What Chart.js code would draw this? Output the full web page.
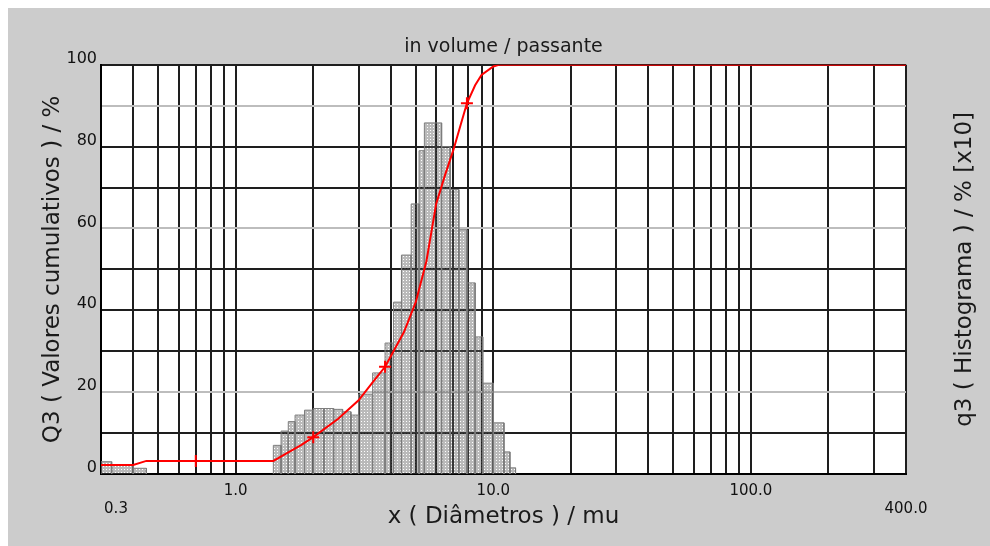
<!DOCTYPE html>
<html>
<head>
<meta charset="utf-8">
<title>Granulometria</title>
<script src="https://cdn.jsdelivr.net/npm/chart.js@4.4.1/dist/chart.umd.min.js"></script>
<style>
  html, body { margin: 0; padding: 0; background: #fff; }
  #box { width: 990px; height: 546px; }
</style>
</head>
<body>
<div id="box"><canvas id="granChart"></canvas></div>
<script>
// histogram classes (diameter, mu) and q3 heights in % x10
var histFrom = [0.3, 0.33, 0.4, 1.4, 1.5, 1.6, 1.7, 1.85, 2.0, 2.2, 2.4, 2.6, 2.8, 3.0, 3.4, 3.8, 4.1, 4.4, 4.8, 5.15, 5.4, 6.3, 6.8, 7.35, 7.9, 8.5, 9.1, 10.0, 11.0, 11.6];
var histTo   = [0.33, 0.4, 0.45, 1.5, 1.6, 1.7, 1.85, 2.0, 2.2, 2.4, 2.6, 2.8, 3.0, 3.4, 3.8, 4.1, 4.4, 4.8, 5.15, 5.4, 6.3, 6.8, 7.35, 7.9, 8.5, 9.1, 10.0, 11.0, 11.6, 12.2];
var histQ3   = [3.0, 2.2, 1.4, 7.0, 10.5, 12.8, 14.4, 15.6, 16.0, 16.0, 15.8, 15.2, 14.4, 19.5, 24.7, 32.0, 42.0, 53.5, 66.0, 79.0, 85.8, 80.0, 69.5, 59.7, 46.7, 33.5, 22.2, 12.5, 5.4, 1.5];

// cumulative passing curve Q3 (%)
var cumDiam = [0.3, 0.4, 0.45, 0.7, 1.4, 1.6, 1.8, 2.0, 2.5, 3.0, 3.4, 3.8, 4.0, 4.5, 5.0, 5.5, 6.0, 6.5, 7.0, 7.5, 7.9, 8.5, 9.0, 10.0, 10.5, 400];
var cumQ3   = [2.2, 2.2, 3.2, 3.2, 3.2, 5.3, 7.1, 9.0, 13.5, 18.0, 22.4, 26.2, 28.8, 34.7, 42.0, 52.0, 66.0, 73.1, 79.2, 85.7, 90.6, 95.0, 97.5, 99.6, 100, 100];
var cumMarks = [0.7, 2.0, 3.8, 7.9];

// axis grid / labels (0.3 and 400 sit on a second line)
var xGrid = [0.3, 0.4, 0.5, 0.6, 0.7, 0.8, 0.9, 1, 2, 3, 4, 5, 6, 7, 8, 9, 10, 20, 30, 40, 50, 60, 70, 80, 90, 100, 200, 300, 400];
var xLabels = { '0.3': ['', '\u2003\u20030.3'], '1': '1.0', '10': '10.0', '100': '100.0', '400': ['', '400.0'] };
var yLabels = [0, 20, 40, 60, 80, 100];
var yLight = [20, 60, 90];

Chart.defaults.font.family = "'DejaVu Sans', sans-serif";
Chart.defaults.color = '#111111';

function dotPattern() {
    var tile = document.createElement('canvas');
    tile.width = 3;
    tile.height = 3;
    var t = tile.getContext('2d');
    t.fillStyle = 'rgba(90, 90, 90, 0.42)';
    t.fillRect(0, 0, 3, 3);
    t.clearRect(1, 1, 1, 1);
    return t.createPattern(tile, 'repeat');
}

var dots = dotPattern();

var datasets = [{
    label: 'Q3',
    data: cumDiam.map(function (d, i) { return { x: d, y: cumQ3[i] }; }),
    borderColor: '#ff0000',
    borderWidth: 2,
    tension: 0,
    fill: false,
    pointStyle: 'cross',
    pointRadius: cumDiam.map(function (d) { return cumMarks.indexOf(d) >= 0 ? 6 : 0; }),
    pointBorderColor: '#ff0000',
    pointBorderWidth: 2,
    order: 0
}];

// one closed step per class so every bar keeps its own outline
histFrom.forEach(function (lo, i) {
    var hi = histTo[i], h = histQ3[i];
    datasets.push({
        label: 'q3',
        data: [{ x: lo, y: 0 }, { x: lo, y: h }, { x: hi, y: h }, { x: hi, y: 0 }],
        borderColor: '#7c7c7c',
        borderWidth: 1,
        backgroundColor: dots,
        fill: 'origin',
        pointRadius: 0,
        tension: 0,
        order: 1
    });
});

// grey panel with a thin white edge, white plot area
var panel = {
    id: 'panel',
    beforeDraw: function (chart) {
        var ctx = chart.ctx, a = chart.chartArea;
        ctx.save();
        ctx.fillStyle = '#ffffff';
        ctx.fillRect(0, 0, chart.width, chart.height);
        ctx.fillStyle = '#cccccc';
        ctx.fillRect(8, 8, chart.width - 8, chart.height - 8);
        ctx.fillStyle = '#ffffff';
        ctx.fillRect(a.left, a.top, a.right - a.left, a.bottom - a.top);
        ctx.restore();
    }
};

// right-hand histogram axis title, read bottom to top like the left one
var rightTitle = {
    id: 'rightTitle',
    afterDraw: function (chart) {
        var ctx = chart.ctx, a = chart.chartArea;
        ctx.save();
        ctx.translate(965, (a.top + a.bottom) / 2);
        ctx.rotate(-Math.PI / 2);
        ctx.font = "23px 'DejaVu Sans', sans-serif";
        ctx.fillStyle = '#1a1a1a';
        ctx.textAlign = 'center';
        ctx.textBaseline = 'middle';
        ctx.fillText('q3 ( Histograma ) / % [x10]', 0, 0);
        ctx.restore();
    }
};

new Chart(document.getElementById('granChart'), {
    type: 'line',
    data: { datasets: datasets },
    plugins: [panel, rightTitle],
    options: {
        responsive: true,
        maintainAspectRatio: false,
        animation: false,
        events: [],
        layout: { padding: { left: 0, right: 84, top: 0, bottom: 0 } },
        plugins: {
            legend: { display: false },
            tooltip: { enabled: false },
            title: {
                display: true,
                fullSize: false,
                text: 'in volume / passante',
                color: '#1a1a1a',
                font: { size: 19, weight: 'normal' },
                padding: { top: 36, bottom: 6 }
            }
        },
        scales: {
            x: {
                type: 'logarithmic',
                min: 0.3,
                max: 400,
                afterBuildTicks: function (scale) {
                    scale.ticks = xGrid.map(function (v) { return { value: v }; });
                },
                afterFit: function (scale) { scale.height = 72; },
                ticks: {
                    autoSkip: false,
                    maxRotation: 0,
                    padding: 8,
                    font: { size: 15 },
                    callback: function (value) {
                        var l = xLabels[String(value)];
                        return l === undefined ? '' : l;
                    }
                },
                grid: { color: '#1e1e1e', lineWidth: 2, drawTicks: false },
                border: { color: '#000000', width: 2 },
                title: {
                    display: true,
                    text: 'x ( Diâmetros ) / mu',
                    color: '#1a1a1a',
                    font: { size: 23 },
                    padding: { top: 0, bottom: 15 }
                }
            },
            y: {
                min: 0,
                max: 100,
                afterFit: function (scale) { scale.width = 101; },
                ticks: {
                    stepSize: 10,
                    padding: 4,
                    labelOffset: -6,
                    font: { size: 16 },
                    callback: function (value) {
                        return yLabels.indexOf(value) >= 0 ? String(value) : '';
                    }
                },
                grid: {
                    drawTicks: false,
                    lineWidth: 2,
                    color: function (c) {
                        return yLight.indexOf(c.tick.value) >= 0 ? '#bdbdbd' : '#1e1e1e';
                    }
                },
                border: { color: '#000000', width: 2 },
                title: {
                    display: true,
                    text: 'Q3 ( Valores cumulativos ) / %',
                    color: '#1a1a1a',
                    font: { size: 23 },
                    padding: { top: 39, bottom: 0 }
                }
            }
        }
    }
});
</script>
</body>
</html>
